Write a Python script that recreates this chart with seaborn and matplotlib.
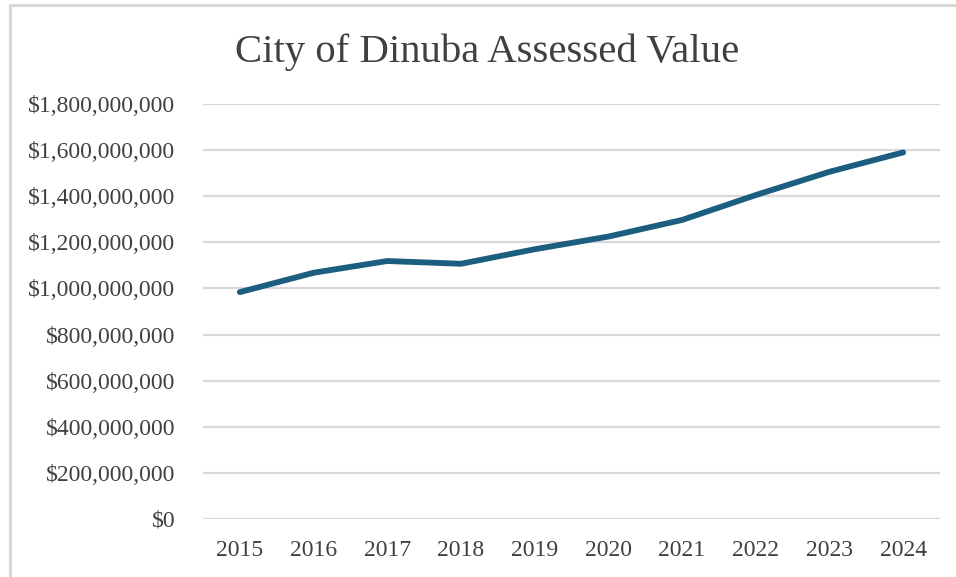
import matplotlib
matplotlib.use("Agg")
import matplotlib.pyplot as plt
import matplotlib.ticker as mticker
from matplotlib.lines import Line2D
import pandas as pd
import seaborn as sns

# Assessed value by year
years = ["2015", "2016", "2017", "2018", "2019", "2020", "2021", "2022", "2023", "2024"]
assessed_value = [984e6, 1068e6, 1119e6, 1107e6, 1170e6, 1225e6, 1297e6, 1405e6, 1506e6, 1590e6]
y_ticks = [0, 200e6, 400e6, 600e6, 800e6, 1000e6, 1200e6, 1400e6, 1600e6, 1800e6]

df = pd.DataFrame({"Year": years, "Value": assessed_value})

sns.set_theme(style="white")
plt.rcParams["font.family"] = ["Liberation Serif", "DejaVu Serif"]

text_col = "#404040"
grid_col = "#D9D9D9"

fig = plt.figure(figsize=(9.56, 5.77), dpi=100)
ax = fig.add_axes([203 / 956, 1 - 519 / 577, 737 / 956, 415 / 577])

sns.lineplot(data=df, x="Year", y="Value", ax=ax, color="#1B5E80",
             linewidth=4.2, solid_capstyle="round", solid_joinstyle="round",
             sort=False, zorder=3)

ax.set_xlim(-0.5, len(years) - 0.5)
ax.set_ylim(0, 1.8e9)
ax.set_yticks(y_ticks)
ax.yaxis.set_major_formatter(mticker.FuncFormatter(lambda v, p: f"${v:,.0f}"))
ax.yaxis.grid(True, color=grid_col, linewidth=1.6)
ax.set_axisbelow(True)
for s in ax.spines.values():
    s.set_visible(False)
ax.tick_params(axis="both", length=0, labelsize=17, labelcolor=text_col)
ax.tick_params(axis="y", pad=20)
ax.tick_params(axis="x", pad=15)
ax.set_xlabel("")
ax.set_ylabel("")

fig.text(0.51, 0.91, "City of Dinuba Assessed Value", ha="center", va="center",
         fontsize=29.3, color=text_col)

# outer chart border (cropped on the right and bottom in the reference)
fig.add_artist(Line2D([10 / 956, 1.0], [1 - 5 / 577, 1 - 5 / 577], color=grid_col, linewidth=2.2,
                      transform=fig.transFigure))
fig.add_artist(Line2D([10 / 956, 10 / 956], [0.0, 1 - 5 / 577], color=grid_col, linewidth=2.2,
                      transform=fig.transFigure))

fig.savefig("out.png", dpi=100, facecolor="white")
